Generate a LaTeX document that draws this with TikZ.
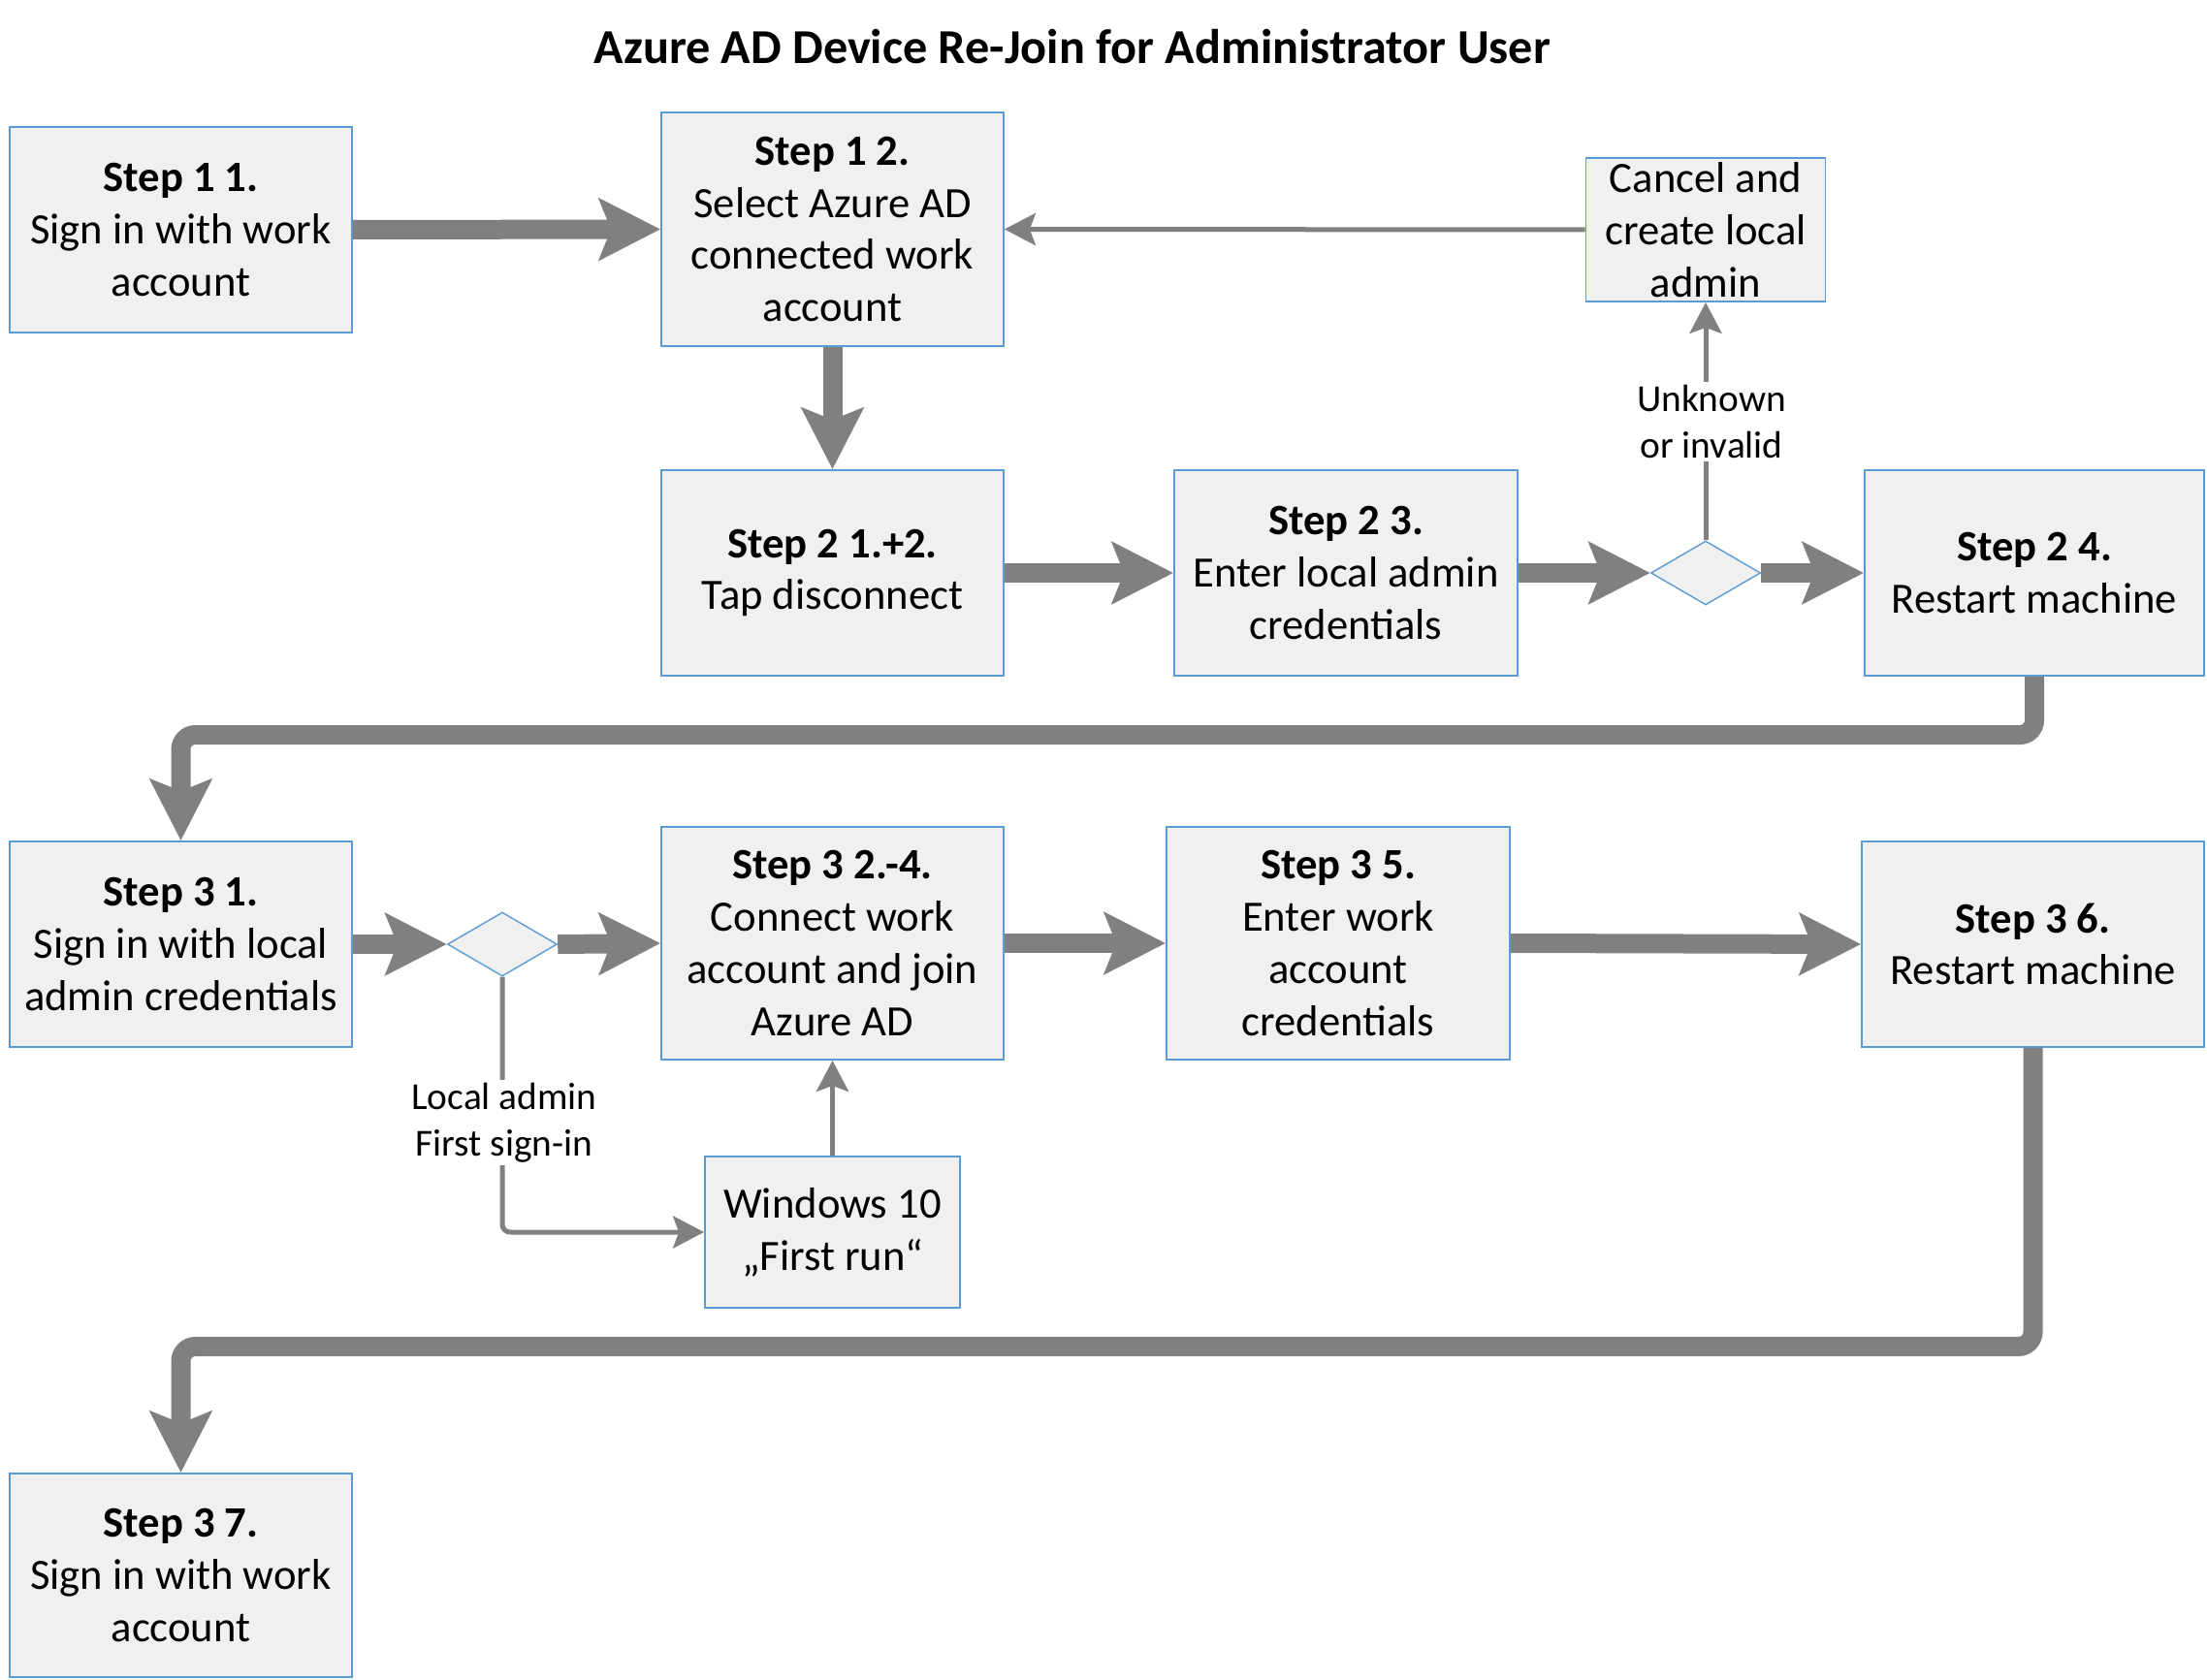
\documentclass[tikz,border=0pt]{standalone}
\usepackage{fontspec}
\setmainfont{Carlito}
\usetikzlibrary{arrows.meta,shapes.geometric}
\definecolor{boxblue}{RGB}{91,155,213}
\definecolor{boxfill}{RGB}{240,240,240}
\definecolor{arrgray}{RGB}{128,128,128}
\tikzset{
  box/.style={draw=boxblue, fill=boxfill, line width=0.5pt, align=center,
    font=\fontsize{12.7}{15.3}\selectfont, inner sep=0pt},
  dia/.style={diamond, draw=boxblue, fill=boxfill, line width=0.4pt,
    minimum width=1.13cm, minimum height=0.66cm, inner sep=0pt},
  bigarr/.style={draw=arrgray, line width=0.2cm,
    -{Stealth[length=0.63cm, width=0.63cm, inset=0.12cm]}, rounded corners=0.15cm},
  smallarr/.style={draw=arrgray, line width=0.05cm,
    -{Stealth[length=0.32cm, width=0.33cm, inset=0.06cm]}, rounded corners=0.08cm},
  lbl/.style={fill=white, align=center, inner sep=1pt,
    font=\fontsize{11.2}{13.6}\selectfont}
}
\begin{document}
\begin{tikzpicture}[x=1cm, y=-1cm]
\useasboundingbox (0,0) rectangle (22.76,17.33);

\node[font=\fontsize{14.3}{17}\selectfont\bfseries] (title) at (11.06,0.48) {Azure AD Device Re-Join for Administrator User};

\node[box, minimum width=3.53cm, minimum height=2.12cm] (s11) at (1.865,2.37) {\textbf{Step 1 1.}\\Sign in with work\\account};
\node[box, minimum width=3.53cm, minimum height=2.41cm] (s12) at (8.585,2.365) {\textbf{Step 1 2.}\\Select Azure AD\\connected work\\account};
\node[box, minimum width=2.47cm, minimum height=1.48cm] (cancel) at (17.59,2.37) {Cancel and\\create local\\admin};

\node[box, minimum width=3.53cm, minimum height=2.12cm] (s21) at (8.585,5.91) {\textbf{Step 2 1.+2.}\\Tap disconnect};
\node[box, minimum width=3.54cm, minimum height=2.12cm] (s23) at (13.88,5.91) {\textbf{Step 2 3.}\\Enter local admin\\credentials};
\node[dia] (d1) at (17.59,5.91) {};
\node[box, minimum width=3.50cm, minimum height=2.12cm] (s24) at (20.98,5.91) {\textbf{Step 2 4.}\\Restart machine};

\node[box, minimum width=3.53cm, minimum height=2.12cm] (s31) at (1.865,9.74) {\textbf{Step 3 1.}\\Sign in with local\\admin credentials};
\node[dia] (d2) at (5.18,9.74) {};
\node[box, minimum width=3.53cm, minimum height=2.40cm] (s32) at (8.585,9.73) {\textbf{Step 3 2.-4.}\\Connect work\\account and join\\Azure AD};
\node[box, minimum width=3.54cm, minimum height=2.40cm] (s35) at (13.80,9.73) {\textbf{Step 3 5.}\\Enter work\\account\\credentials};
\node[box, minimum width=3.53cm, minimum height=2.12cm] (s36) at (20.965,9.74) {\textbf{Step 3 6.}\\Restart machine};
\node[box, minimum width=2.63cm, minimum height=1.56cm] (w10) at (8.585,12.71) {Windows 10\\„First run“};

\node[box, minimum width=3.53cm, minimum height=2.10cm] (s37) at (1.865,16.25) {\textbf{Step 3 7.}\\Sign in with work\\account};

\coordinate (b1) at (0,7.58);
\coordinate (b2) at (0,13.89);

% thick connectors
\draw[bigarr] (s11.east) -- (s12.west);
\draw[bigarr] (s12.south) -- (s21.north);
\draw[bigarr] (s21.east) -- (s23.west);
\draw[bigarr] (s23.east) -- (d1.west);
\draw[bigarr] (d1.east) -- (s24.west);
\draw[bigarr] (s24.south) -- (s24.south |- b1) -| (s31.north);
\draw[bigarr] (s31.east) -- (d2.west);
\draw[bigarr] (d2.east) -- (s32.west);
\draw[bigarr] (s32.east) -- (s35.west);
\draw[bigarr] (s35.east) -- (s36.west);
\draw[bigarr] (s36.south) -- (s36.south |- b2) -| (s37.north);

% thin connectors
\draw[smallarr] (cancel.west) -- (s12.east);
\draw[smallarr] (d1.north) -- (cancel.south);
\node[lbl] (l1) at (17.65,4.35) {Unknown\\or invalid};
\draw[smallarr] (d2.south) |- (w10.west);
\node[lbl] (l2) at (5.20,11.58) {Local admin\\First sign-in};
\draw[smallarr] (w10.north) -- (s32.south);
\end{tikzpicture}
\end{document}
